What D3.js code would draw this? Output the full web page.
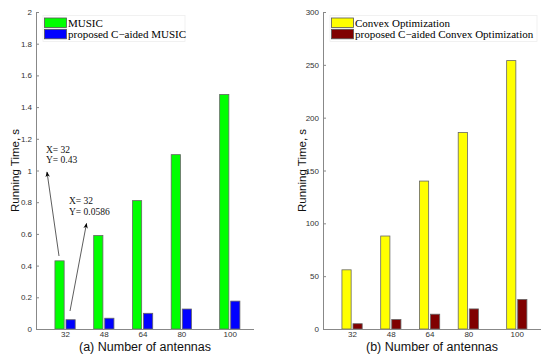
<!DOCTYPE html>
<html><head><meta charset="utf-8">
<script src="https://cdn.jsdelivr.net/npm/d3@7"></script>
<style>body{margin:0;background:#fff}svg{display:block}</style>
</head><body>
<svg id="c" width="550" height="361"></svg>
<script>
const antennas = [32, 48, 64, 80, 100];
const musicTime = [0.43, 0.59, 0.81, 1.10, 1.48];
const cMusicTime = [0.0586, 0.068, 0.099, 0.126, 0.176];
const convexTime = [56, 88, 140, 186, 254];
const cConvexTime = [5, 9, 14, 19, 28];
const yTicksA = [0, 0.2, 0.4, 0.6, 0.8, 1, 1.2, 1.4, 1.6, 1.8, 2];
const yTicksB = [0, 50, 100, 150, 200, 250, 300];
const legendA = ["MUSIC", "proposed C\u2212aided MUSIC"];
const legendB = ["Convex Optimization", "proposed C\u2212aided Convex Optimization"];
const xLabels = ["(a) Number of antennas", "(b) Number of antennas"];
const yLabel = "Running Time, s";
const annotA = [{x: 32, y: 0.43, s: 0}, {x: 32, y: 0.0586, s: 1}];

const svg = d3.select("#c");
const defs = svg.append("defs");
defs.append("marker").attr("id","ah").attr("viewBox","0 0 10 10").attr("refX",9).attr("refY",5)
  .attr("markerWidth",7).attr("markerHeight",7).attr("orient","auto-start-reverse")
  .append("path").attr("d","M0,1 L10,5 L0,9 L3,5 Z").attr("fill","#000");

function panel(opts){
  const g = svg.append("g");
  const x = d3.scaleLinear().domain([20,110]).range([opts.x0, opts.x1]);
  const y = d3.scaleLinear().domain([0, opts.ymax]).range([329, 12]);
  const bw = x(23.8) - x(20);
  const off = 2.28;
  // bars
  opts.series.forEach((vals, si) => {
    g.selectAll(null).data(vals).enter().append("rect")
      .attr("x", (d,i) => x(antennas[i] + (si===0 ? -off : off)) - bw/2)
      .attr("y", d => y(d))
      .attr("width", bw)
      .attr("height", d => y(0) - y(d))
      .attr("fill", opts.colors[si])
      .attr("stroke", "#666").attr("stroke-width", 0.8);
  });
  // axes
  const ya = d3.axisLeft(y).tickValues(opts.yTicks).tickSize(-3).tickPadding(4).tickFormat(d3.format("~g"));
  const yg = g.append("g").attr("transform", `translate(${opts.x0},0)`).call(ya);
  const xa = d3.axisBottom(x).tickValues(antennas).tickSize(0).tickPadding(2.5);
  const xg = g.append("g").attr("transform", `translate(0,${y(0)})`).call(xa);
  [yg, xg].forEach(a => {
    a.select(".domain").attr("stroke", "#888").attr("stroke-width", 1);
    a.selectAll(".tick line").attr("stroke", "#888");
    a.selectAll("text").attr("fill", "#333").style("font-family", "Liberation Sans, Arial, sans-serif").style("font-size", "8px");
  });
  yg.select(".domain").attr("d", `M0.5,${y(0)}V${y(opts.ymax)}`);
  xg.select(".domain").attr("d", `M${opts.x0},0.5H${opts.x1}`);
  // axis labels
  g.append("text").attr("x", (opts.x0 + opts.x1)/2).attr("y", 351).attr("text-anchor","middle")
    .style("font-family","Liberation Sans, Arial, sans-serif").style("font-size","12.5px").attr("fill","#111")
    .text(opts.xLabel);
  g.append("text").attr("transform", `translate(${opts.ylx},${(12+329)/2}) rotate(-90)`).attr("text-anchor","middle")
    .style("font-family","Liberation Sans, Arial, sans-serif").style("font-size","11.5px").attr("fill","#111")
    .text(yLabel);
  // legend
  const lg = g.append("g");
  lg.append("rect").attr("x", opts.x0 + 7).attr("y", 15.5).attr("width", opts.legW).attr("height", 26)
    .attr("fill","#fff").attr("stroke","#eee").attr("stroke-width",0.8);
  opts.legend.forEach((t, i) => {
    lg.append("rect").attr("x", opts.x0 + 8.5).attr("y", 18 + i*11.3).attr("width", 22).attr("height", 9.5)
      .attr("fill", opts.colors[i]).attr("stroke","#555").attr("stroke-width",0.8);
    lg.append("text").attr("x", opts.x0 + 32).attr("y", 26.5 + i*11.3)
      .style("font-family","Liberation Serif, Times New Roman, serif").style("font-size","11px").attr("fill","#000")
      .text(t);
  });
  return {g, x, y, off};
}

const pA = panel({x0:36, x1:254, ymax:2, yTicks:yTicksA, series:[musicTime, cMusicTime],
  colors:["#00ff00","#0000ff"], legend:legendA, legW:142, xLabel:xLabels[0], ylx:19});
panel({x0:323, x1:541, ymax:300, yTicks:yTicksB, series:[convexTime, cConvexTime],
  colors:["#ffff00","#800000"], legend:legendB, legW:207, xLabel:xLabels[1], ylx:306});

// data tips (annotations) for panel (a)
const tipPos = [{tx:46, ty:152.5, ax:47, ay:172, sx:59, sy:256}, {tx:69, ty:204, ax:86.5, ay:223.5, sx:70, sy:311}];
annotA.forEach((a, i) => {
  const p = tipPos[i];
  pA.g.append("line").attr("x1", p.sx).attr("y1", p.sy).attr("x2", p.ax).attr("y2", p.ay)
    .attr("stroke","#333").attr("stroke-width",0.8).attr("marker-end","url(#ah)");
  const t = pA.g.append("text").style("font-family","Liberation Serif, Times New Roman, serif").style("font-size","9.5px").attr("fill","#111");
  t.append("tspan").attr("x", p.tx).attr("y", p.ty).text("X= " + a.x);
  t.append("tspan").attr("x", p.tx).attr("y", p.ty + 10.5).text("Y= " + a.y);
});
</script>
</body></html>
